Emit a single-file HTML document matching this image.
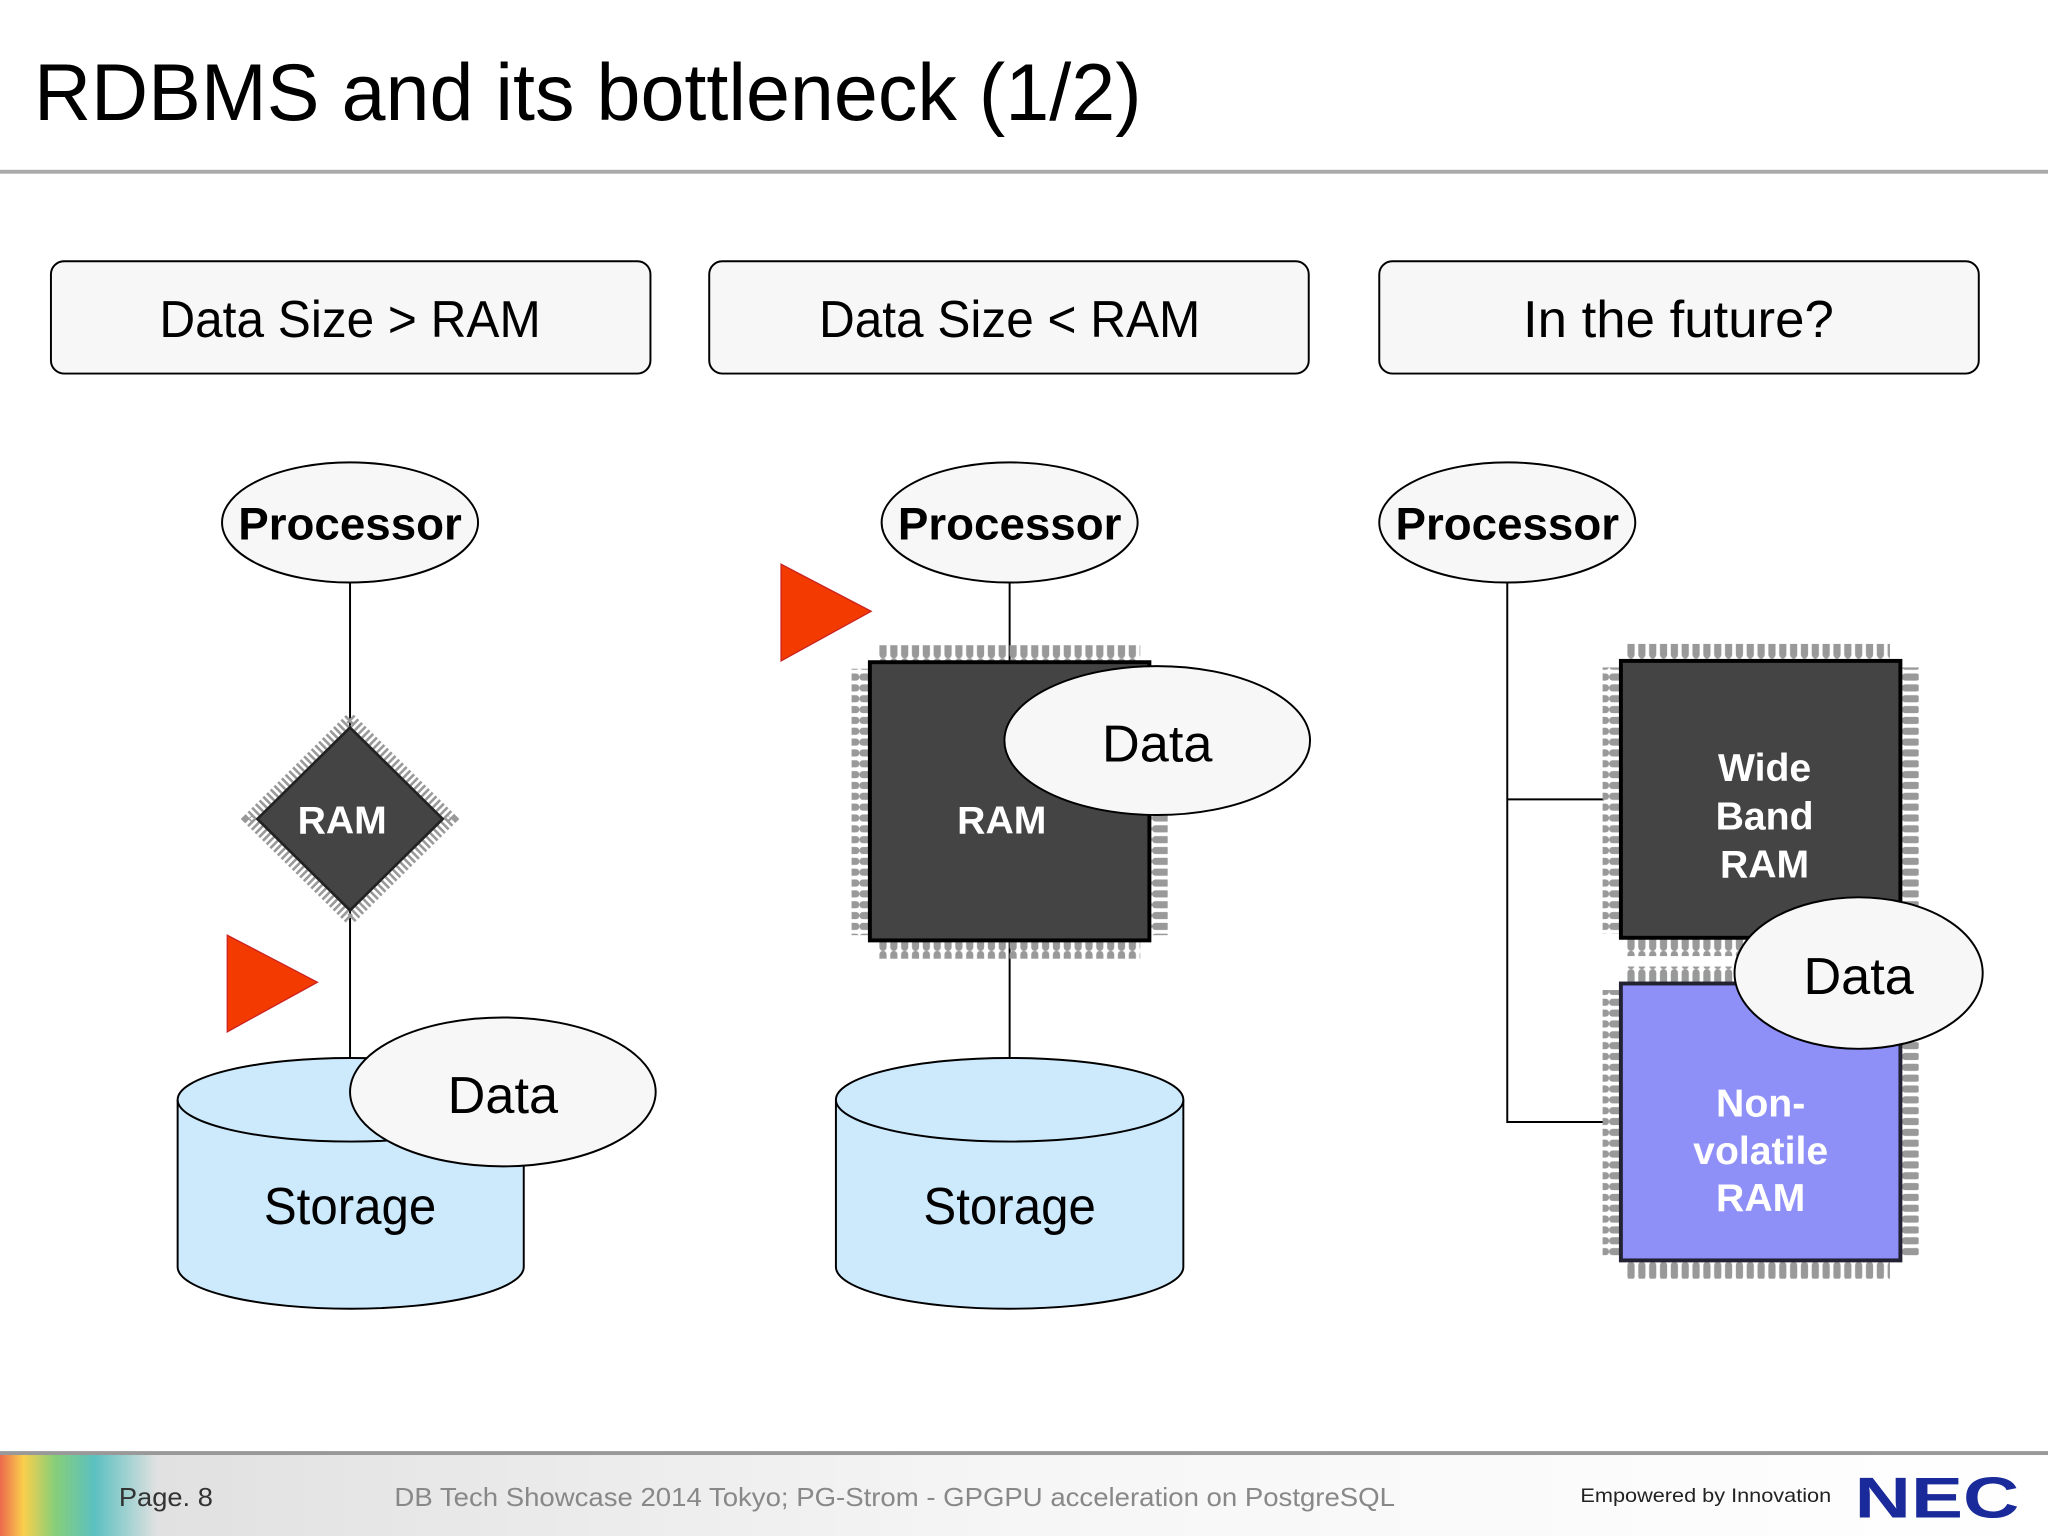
<!DOCTYPE html>
<html><head><meta charset="utf-8"><style>html,body{margin:0;padding:0;background:#fff}svg{display:block}</style></head><body>
<svg width="2048" height="1536" viewBox="0 0 1568 1176" xmlns="http://www.w3.org/2000/svg" font-family="Liberation Sans, DejaVu Sans, sans-serif">
<defs>
<pattern id="pv" width="8.3" height="14" patternUnits="userSpaceOnUse"><rect x="1" y="0" width="5.5" height="14" rx="2.7" fill="#999"/></pattern>
<pattern id="ph" width="14" height="8.3" patternUnits="userSpaceOnUse"><rect x="0" y="1" width="14" height="5.5" rx="2.7" fill="#999"/></pattern>
<linearGradient id="ft" x1="0" x2="1"><stop offset="0" stop-color="#ddd"/><stop offset="0.5" stop-color="#f6f6f6"/><stop offset="1" stop-color="#fff"/></linearGradient>
<linearGradient id="rb" x1="0" x2="1"><stop offset="0" stop-color="#e53"/><stop offset="0.15" stop-color="#fc3"/><stop offset="0.35" stop-color="#7c6"/><stop offset="0.6" stop-color="#4bb"/><stop offset="1" stop-color="#4bb" stop-opacity="0"/></linearGradient>
</defs>
<rect width="1568" height="1176" fill="#fff"/>
<text x="26" y="92" font-size="62" fill="#000" textLength="848" lengthAdjust="spacingAndGlyphs">RDBMS and its bottleneck (1/2)</text>
<rect x="0" y="130" width="1568" height="3" fill="#aaa"/>

<g fill="#f7f7f7" stroke="#000" stroke-width="1.5">
<rect x="39" y="200" width="459" height="86" rx="10"/>
<rect x="543" y="200" width="459" height="86" rx="10"/>
<rect x="1056" y="200" width="459" height="86" rx="10"/>
</g>
<g font-size="40" text-anchor="middle" fill="#000">
<text x="268" y="258" textLength="292" lengthAdjust="spacingAndGlyphs">Data Size &gt; RAM</text>
<text x="773" y="258" textLength="292" lengthAdjust="spacingAndGlyphs">Data Size &lt; RAM</text>
<text x="1285" y="258" textLength="238" lengthAdjust="spacingAndGlyphs">In the future?</text>
</g>

<g stroke="#000" stroke-width="1.5" fill="none">
<line x1="268" y1="446" x2="268" y2="810"/>
<line x1="773" y1="446" x2="773" y2="810"/>
<polyline points="1154,446 1154,859 1228,859"/>
<line x1="1154" y1="612" x2="1228" y2="612"/>
</g>

<g fill="#f7f7f7" stroke="#000" stroke-width="1.5">
<ellipse cx="268" cy="400" rx="98" ry="46"/>
<ellipse cx="773" cy="400" rx="98" ry="46"/>
<ellipse cx="1154" cy="400" rx="98" ry="46"/>
</g>
<g font-size="35" font-weight="bold" text-anchor="middle" fill="#000">
<text x="268" y="413">Processor</text>
<text x="773" y="413">Processor</text>
<text x="1154" y="413">Processor</text>
</g>

<polygon points="268,550 346,627 268,704 190,627" fill="none" stroke="#999" stroke-width="8" stroke-dasharray="2 2"/>
<polygon points="268,557 339,627 268,697 197,627" fill="#444" stroke="#222" stroke-width="2"/>
<text x="262" y="638" font-size="30" font-weight="bold" fill="#fff" text-anchor="middle">RAM</text>

<rect x="671" y="494" width="202" height="14" fill="url(#pv)"/>
<rect x="671" y="720" width="202" height="14" fill="url(#pv)"/>
<rect x="652" y="512" width="14" height="204" fill="url(#ph)"/>
<rect x="880" y="512" width="14" height="204" fill="url(#ph)"/>
<rect x="666" y="507" width="214" height="213" fill="#444" stroke="#000" stroke-width="3"/>
<text x="767" y="638" font-size="30" font-weight="bold" fill="#fff" text-anchor="middle">RAM</text>

<rect x="1245" y="493" width="202" height="14" fill="url(#pv)"/>
<rect x="1245" y="718" width="202" height="14" fill="url(#pv)"/>
<rect x="1227" y="511" width="14" height="204" fill="url(#ph)"/>
<rect x="1455" y="511" width="14" height="204" fill="url(#ph)"/>
<rect x="1241" y="506" width="214" height="212" fill="#444" stroke="#000" stroke-width="3"/>
<g font-size="30" font-weight="bold" fill="#fff" text-anchor="middle">
<text x="1351" y="598">Wide</text><text x="1351" y="635">Band</text><text x="1351" y="672">RAM</text>
</g>
<rect x="1245" y="740" width="202" height="14" fill="url(#pv)"/>
<rect x="1245" y="965" width="202" height="14" fill="url(#pv)"/>
<rect x="1227" y="758" width="14" height="204" fill="url(#ph)"/>
<rect x="1455" y="758" width="14" height="204" fill="url(#ph)"/>
<rect x="1241" y="753" width="214" height="212" fill="#8f8ff8" stroke="#223" stroke-width="3"/>
<g font-size="30" font-weight="bold" fill="#fff" text-anchor="middle">
<text x="1348" y="855">Non-</text><text x="1348" y="891">volatile</text><text x="1348" y="927">RAM</text>
</g>

<g fill="#cde9fc" stroke="#000" stroke-width="1.5">
<path d="M136,842 L136,970 A132.5,32 0 0 0 401,970 L401,842"/>
<ellipse cx="268.5" cy="842" rx="132.5" ry="32"/>
<path d="M640,842 L640,970 A133,32 0 0 0 906,970 L906,842"/>
<ellipse cx="773" cy="842" rx="133" ry="32"/>
</g>
<g font-size="40" text-anchor="middle" fill="#000">
<text x="268" y="937" textLength="132" lengthAdjust="spacingAndGlyphs">Storage</text>
<text x="773" y="937" textLength="132" lengthAdjust="spacingAndGlyphs">Storage</text>
</g>

<g fill="#f7f7f7" stroke="#000" stroke-width="1.5">
<ellipse cx="385" cy="836" rx="117" ry="57"/>
<ellipse cx="886" cy="567" rx="117" ry="57"/>
<ellipse cx="1423" cy="745" rx="95" ry="58"/>
</g>
<g font-size="40" text-anchor="middle" fill="#000">
<text x="385" y="852">Data</text>
<text x="886" y="583">Data</text>
<text x="1423" y="761">Data</text>
</g>

<polygon points="174,716 243,752 174,790" fill="#f33a00" stroke="#c22" stroke-width="1"/>
<polygon points="598,432 667,468 598,506" fill="#f33a00" stroke="#c22" stroke-width="1"/>

<rect x="0" y="1113" width="1568" height="63" fill="url(#ft)"/>
<rect x="0" y="1113" width="120" height="63" fill="url(#rb)" opacity="0.85"/>
<rect x="0" y="1111" width="1568" height="3" fill="#999"/>
<text x="91" y="1153" font-size="20" fill="#333" textLength="72" lengthAdjust="spacingAndGlyphs">Page. 8</text>
<text x="302" y="1153" font-size="20" fill="#888" textLength="766" lengthAdjust="spacingAndGlyphs">DB Tech Showcase 2014 Tokyo; PG-Strom - GPGPU acceleration on PostgreSQL</text>
<text x="1210" y="1150" font-size="15" fill="#222" textLength="192" lengthAdjust="spacingAndGlyphs">Empowered by Innovation</text>
<text x="1420" y="1162" font-size="44" font-weight="bold" fill="#1a2a9a" textLength="126" lengthAdjust="spacingAndGlyphs">NEC</text>
</svg>
</body></html>
